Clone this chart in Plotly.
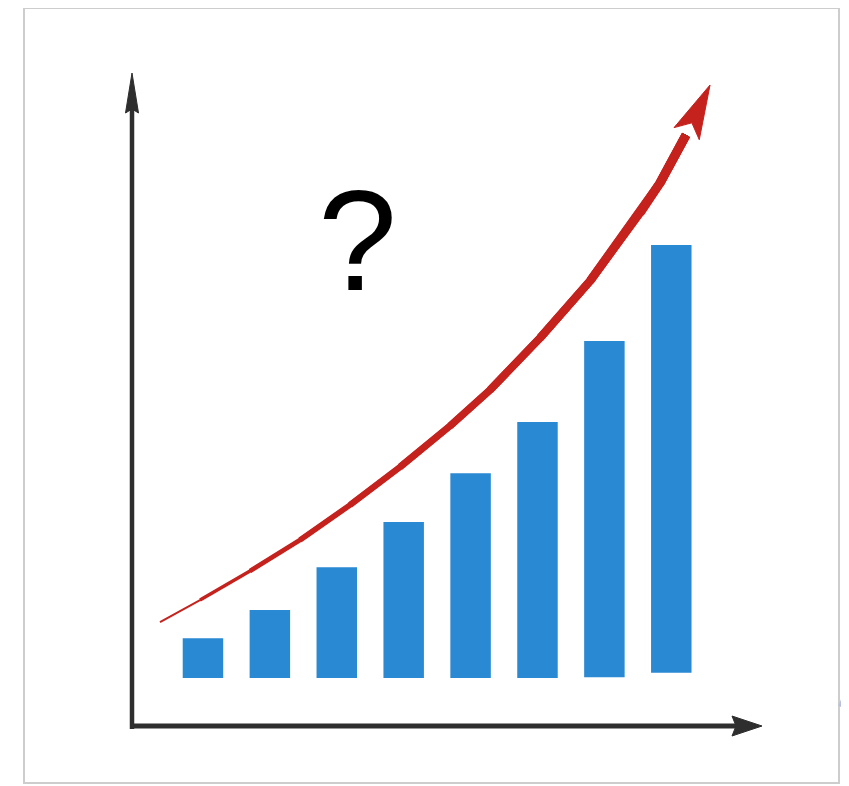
import numpy as np
import plotly.graph_objects as go

# ---------------- data ----------------
periods = [1, 2, 3, 4, 5, 6, 7, 8]
bar_tops = [9.2, 15.7, 25.6, 36.0, 47.3, 59.1, 77.8, 100.0]
bar_bases = [0.0, 0.0, 0.0, 0.0, 0.0, 0.0, 0.2, 1.2]

# red trend arrow (x in period units, y in value units); last point = arrow tip
trend_x = [0.358, 0.956, 1.703, 2.450, 3.197, 3.945, 4.692, 5.290, 6.037, 6.785, 7.532, 7.831, 8.220, 8.579]
trend_y = [12.93, 18.01, 24.71, 31.87, 39.95, 48.73, 58.20, 66.51, 78.52, 91.68, 107.39, 114.31, 125.40, 136.95]
trend_widths = [2.0, 3.4, 4.6, 5.6, 6.3, 6.9, 7.4, 7.9, 8.3, 8.7, 9.0, 9.2]

question_text = "?"

# ---------------- layout constants ----------------
PAGE_OFF = 8                      # browser body margin
W, H = 841, 778
X_RANGE = [-1.914, 10.656]
Y_RANGE = [-24.94, 154.73]
SX = W / (X_RANGE[1] - X_RANGE[0])   # px per x unit
SY = H / (Y_RANGE[1] - Y_RANGE[0])   # px per y unit


def to_px(x, y):
    return (x - X_RANGE[0]) * SX + PAGE_OFF, (Y_RANGE[1] - y) * SY + PAGE_OFF


def to_data(px, py):
    return (px - PAGE_OFF) / SX + X_RANGE[0], Y_RANGE[1] - (py - PAGE_OFF) / SY


def px_paper(px, py):
    return (px - PAGE_OFF) / W, 1 - (py - PAGE_OFF) / H


def head_polygon(tip, frm, length, half_w, notch):
    """arrowhead polygon (data coords) pointing at tip, direction from frm"""
    tx, ty = to_px(*tip)
    fx, fy = to_px(*frm)
    d = np.array([tx - fx, ty - fy], dtype=float)
    d /= np.linalg.norm(d)
    n = np.array([-d[1], d[0]])
    t = np.array([tx, ty])
    pts = [t,
           t - d * length + n * half_w,
           t - d * (length - notch),
           t - d * length - n * half_w,
           t]
    xs, ys = zip(*[to_data(p[0], p[1]) for p in pts])
    return list(xs), list(ys)


fig = go.Figure()

# bars
fig.add_trace(go.Bar(
    x=periods,
    y=[t - b for t, b in zip(bar_tops, bar_bases)],
    base=bar_bases,
    width=0.605,
    marker=dict(color="#2a89d3", line=dict(width=0)),
    hoverinfo="skip",
))

# axes arrows (black)
AXIS_COLOR = "#2e2e2e"
ax_x0, ax_y0 = to_data(132, 726)
y_tip = to_data(132, 73)
x_tip = to_data(762, 726)
fig.add_trace(go.Scatter(x=[ax_x0, ax_x0], y=[to_data(132, 729)[1], y_tip[1] - 30 / SY],
                         mode="lines", line=dict(color=AXIS_COLOR, width=4.5),
                         hoverinfo="skip"))
fig.add_trace(go.Scatter(x=[to_data(130, 726)[0], x_tip[0] - 22 / SX], y=[ax_y0, ax_y0],
                         mode="lines", line=dict(color=AXIS_COLOR, width=5),
                         hoverinfo="skip"))
hx, hy = head_polygon(y_tip, (ax_x0, ax_y0), 40, 6.5, 4)
fig.add_trace(go.Scatter(x=hx, y=hy, mode="lines", fill="toself", fillcolor=AXIS_COLOR,
                         line=dict(color=AXIS_COLOR, width=1), hoverinfo="skip"))
hx, hy = head_polygon(x_tip, (ax_x0, ax_y0), 30, 10, 4)
fig.add_trace(go.Scatter(x=hx, y=hy, mode="lines", fill="toself", fillcolor=AXIS_COLOR,
                         line=dict(color=AXIS_COLOR, width=1), hoverinfo="skip"))

# red tapered trend line: overlapping polylines, each starting later and wider
RED = "#c6221d"
body_x, body_y = trend_x[:-1], trend_y[:-1]
for j, w in enumerate(trend_widths):
    if j >= len(body_x) - 1:
        break
    fig.add_trace(go.Scatter(
        x=body_x[j:], y=body_y[j:], mode="lines",
        line=dict(color=RED, width=w), hoverinfo="skip"))
hx, hy = head_polygon((trend_x[-1], trend_y[-1]), (trend_x[-2], trend_y[-2]), 54, 14, 12)
fig.add_trace(go.Scatter(x=hx, y=hy, mode="lines", fill="toself", fillcolor=RED,
                         line=dict(color=RED, width=1), hoverinfo="skip"))

# question mark
qx, qy = to_data(357, 240)
fig.add_annotation(x=qx, y=qy, text=question_text, showarrow=False,
                   font=dict(family="Liberation Sans, Arial, sans-serif", size=142, color="#000000"),
                   xanchor="center", yanchor="middle")

# frame and decoration
fx0, fy0 = px_paper(24, 783)
fx1, fy1 = px_paper(839, 8)
fig.add_shape(type="rect", xref="paper", yref="paper",
              x0=fx0, x1=fx1, y0=fy0, y1=fy1,
              line=dict(color="#cdcdcd", width=2), fillcolor="rgba(0,0,0,0)", layer="below")
dx0, dy0 = px_paper(841, 707)
dx1, dy1 = px_paper(850, 686)
fig.add_shape(type="line", xref="paper", yref="paper",
              x0=dx0, y0=dy0, x1=dx1, y1=dy1,
              line=dict(color="#b9bfe0", width=6))

fig.update_layout(
    width=W, height=H,
    margin=dict(l=0, r=0, t=0, b=0),
    paper_bgcolor="white", plot_bgcolor="white",
    showlegend=False,
    xaxis=dict(range=X_RANGE, visible=False, fixedrange=True),
    yaxis=dict(range=Y_RANGE, visible=False, fixedrange=True),
)

fig.write_html("out.html")
